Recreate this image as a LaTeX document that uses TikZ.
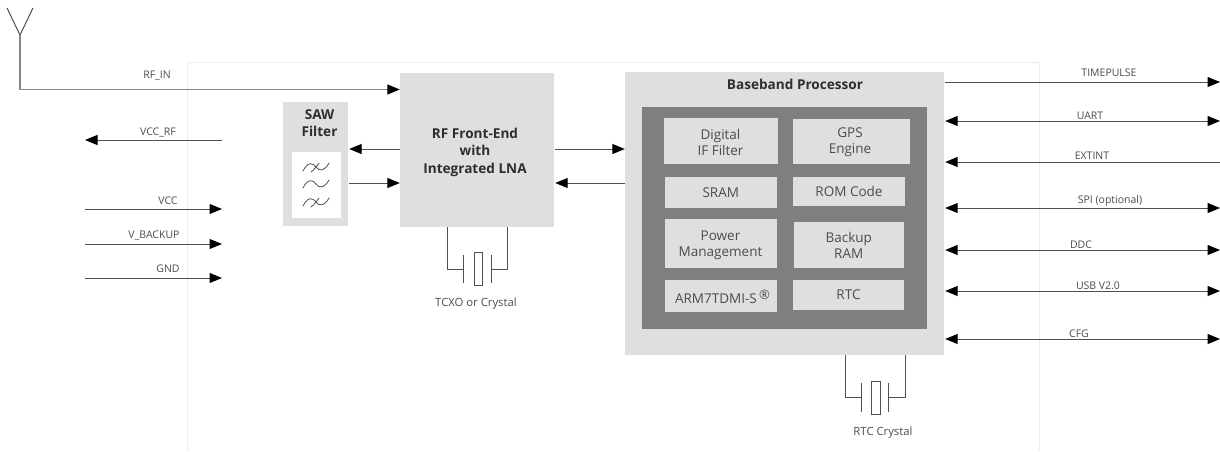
\documentclass[tikz,border=0pt]{standalone}
\usepackage{fontspec}
\setmainfont{Open Sans}
\usetikzlibrary{arrows.meta}
\definecolor{boxg}{HTML}{DFDFDF}
\definecolor{darkg}{HTML}{7F7F7F}
\definecolor{wire}{HTML}{505050}
\definecolor{wirelt}{HTML}{868686}
\definecolor{txt}{HTML}{4C4C4C}
\definecolor{txtb}{HTML}{2E2E2E}
\definecolor{frame}{HTML}{EEEEEE}
\tikzset{
 x=1pt,y=-1pt,
 block/.style={fill=boxg,draw=none,inner sep=0pt,align=center,text=txtb,font=\fontsize{13.6}{17.5}\selectfont\bfseries},
 inner/.style={fill=boxg,draw=none,inner sep=0pt,align=center,text=txt,font=\fontsize{13.5}{16}\selectfont},
 overtext/.style={fill=none,inner sep=0pt,align=center},
 lab/.style={inner sep=0pt,text=txt,font=\fontsize{10.5}{12}\selectfont},
 xtallab/.style={lab,font=\fontsize{11.3}{13}\selectfont},
 wirel/.style={draw=wire,line width=1pt},
 tip/.tip={Triangle[length=12.5pt,width=10pt,fill=black,color=black]},
 arr/.style={wirel,-tip},
 darr/.style={wirel,tip-tip},
 lead/.style={draw=wire,line width=1pt},
 wave/.style={draw=wire,line width=0.8pt,line cap=round},
}
\begin{document}
\begin{tikzpicture}
\useasboundingbox (0,0) rectangle (1220,451);
\draw[frame,line width=0.8pt] (187,451) -- (187,62) -- (1039,62) -- (1039,451);
% blocks
\node[block,minimum width=154pt,minimum height=154pt] (rf) at (477,150) {};
\node[block,overtext] (rft) at (475,152) {RF Front-End\\with\\Integrated LNA};
\node[block,minimum width=65pt,minimum height=124.5pt] (saw) at (315.5,163.75) {};
\node[block,overtext] (sawt) at (319.5,123) {SAW\\Filter};
\node[fill=white,inner sep=0pt,minimum width=49pt,minimum height=66pt] (sawin) at (316.5,185) {};
\node[block,minimum width=319pt,minimum height=283pt] (bb) at (784.5,213.5) {};
\node[block,overtext] (bbt) at (795,84) {Baseband Processor};
\node[fill=darkg,inner sep=0pt,minimum width=285pt,minimum height=222pt] (core) at (784.5,218) {};
\node[inner,minimum width=114.5pt,minimum height=46pt] (dif) at (720.75,141) {};
\node[inner,overtext] (dift) at (720.5,142) {Digital\\IF Filter};
\node[inner,minimum width=116.5pt,minimum height=45.5pt] (gps) at (851.25,141.25) {};
\node[inner,overtext] (gpst) at (850,142) {GPS\\Engine};
\node[inner,minimum width=112.5pt,minimum height=31.5pt] (sram) at (720.75,192.25) {SRAM};
\node[inner,minimum width=112pt,minimum height=29pt] (rom) at (849,191.5) {ROM Code};
\node[inner,minimum width=112.5pt,minimum height=49pt] (pwr) at (720.75,243.5) {};
\node[inner,overtext] (pwrt) at (720.5,245) {Power\\Management};
\node[inner,minimum width=110.5pt,minimum height=46pt] (bak) at (848.75,245) {};
\node[inner,overtext] (bakt) at (848.75,245.5) {Backup\\RAM};
\node[inner,minimum width=112pt,minimum height=32pt] (arm) at (721,296) {};
\node[inner,overtext] (armt) at (722.5,297) {ARM7TDMI-S\,\raisebox{0.5ex}{\fontsize{13}{13}\selectfont ®}};
\node[inner,minimum width=111pt,minimum height=30pt] (rtc) at (848.5,295) {RTC};
% filter symbols
\draw[wave] (303,171) .. controls (308,161) and (313,163) .. (316,167) .. controls (319,171) and (324,172) .. (329,163);
\draw[wave] (311,172) .. controls (314,170) and (316,167) .. (319,163);
\draw[wave] (303,188) .. controls (308,178) and (313,180) .. (316,184) .. controls (319,188) and (324,189) .. (329,180);
\draw[wave] (303,206) .. controls (308,196) and (313,198) .. (316,202) .. controls (319,206) and (324,207) .. (329,198);
\draw[wave] (311,207) .. controls (314,205) and (316,202) .. (319,198);
% antenna
\coordinate (antl) at (7,8);
\coordinate (antr) at (33,8);
\coordinate (antj) at (20,35);
\coordinate (antb) at (20,89.5);
\draw[lead,draw=wire] (antl) -- (antj) -- (antr);
\draw[wirel,draw=wirelt,line width=1.4pt] (antj) -- (antb);
\draw[wirel,draw=wirelt,line width=1.2pt,-tip] (antb) -- (antb -| rf.west);
\node[lab] (lrfin) at (157,76) {RF\_IN};
% left pins
\coordinate (lf) at (85,0);
\coordinate (rg) at (222,0);
\coordinate (y1) at (150,140);
\coordinate (y2) at (150,209);
\coordinate (y3) at (150,244);
\coordinate (y4) at (150,278);
\draw[arr] (y1 -| rg) -- (y1 -| lf);
\draw[arr] (y2 -| lf) -- (y2 -| rg);
\draw[arr] (y3 -| lf) -- (y3 -| rg);
\draw[arr] (y4 -| lf) -- (y4 -| rg);
\node[lab] (lvccrf) at (158,132) {VCC\_RF};
\node[lab] (lvcc) at (168,201) {VCC};
\node[lab] (lvb) at (154,235) {V\_BACKUP};
\node[lab] (lgnd) at (168,269) {GND};
% SAW - RF - BB
\coordinate (m1) at (375,149);
\coordinate (m2) at (375,183);
\draw[arr] (m1 -| rf.west) -- ([xshift=1pt]m1 -| saw.east);
\draw[arr] ([xshift=1pt]m2 -| saw.east) -- (m2 -| rf.west);
\draw[arr] ([xshift=1pt]m1 -| rf.east) -- (m1 -| bb.west);
\draw[arr] (m2 -| bb.west) -- ([xshift=1pt]m2 -| rf.east);
% crystal RF
\coordinate (c1a) at (447,227);
\coordinate (c1b) at (447,269);
\coordinate (c1c) at (463.5,269);
\coordinate (c1d) at (491,269);
\coordinate (c1e) at (507.5,269);
\coordinate (c1f) at (507.5,227);
\draw[lead] (c1a) -- (c1b) -- (c1c);
\draw[lead] (c1d) -- (c1e) -- (c1f);
\draw[lead] (463.5,255) -- (463.5,283);
\draw[lead] (491,255) -- (491,283);
\draw[lead,fill=white] (474,252) rectangle (482,285);
\node[xtallab] (ltcxo) at (476,304) {TCXO or Crystal};
% crystal RTC
\coordinate (c2a) at (845,355);
\coordinate (c2b) at (845,397);
\coordinate (c2c) at (861.5,397);
\coordinate (c2d) at (888.5,397);
\coordinate (c2e) at (905,397);
\coordinate (c2f) at (905,355);
\draw[lead] (c2a) -- (c2b) -- (c2c);
\draw[lead] (c2d) -- (c2e) -- (c2f);
\draw[lead] (861.5,383) -- (861.5,412);
\draw[lead] (888.5,383) -- (888.5,412);
\draw[lead,fill=white] (871.5,381) rectangle (880.5,414);
\node[xtallab] (lrtcc) at (883,433) {RTC Crystal};
% right pins
\coordinate (re) at (1220,0);
\coordinate (r1) at (1000,82);
\coordinate (r2) at (1000,121);
\coordinate (r3) at (1000,162);
\coordinate (r4) at (1000,208);
\coordinate (r5) at (1000,250);
\coordinate (r6) at (1000,291);
\coordinate (r7) at (1000,339);
\draw[arr] ([xshift=1pt]r1 -| bb.east) -- (r1 -| re);
\draw[darr] ([xshift=1pt]r2 -| bb.east) -- (r2 -| re);
\draw[arr] (r3 -| re) -- ([xshift=1pt]r3 -| bb.east);
\draw[darr] ([xshift=1pt]r4 -| bb.east) -- (r4 -| re);
\draw[darr] ([xshift=1pt]r5 -| bb.east) -- (r5 -| re);
\draw[darr] ([xshift=1pt]r6 -| bb.east) -- (r6 -| re);
\draw[darr] ([xshift=1pt]r7 -| bb.east) -- (r7 -| re);
\node[lab] (ltp) at (1109,73) {TIMEPULSE};
\node[lab] (luart) at (1090,116) {UART};
\node[lab] (lext) at (1092,156) {EXTINT};
\node[lab] (lspi) at (1110,201) {SPI (optional)};
\node[lab] (lddc) at (1081,245) {DDC};
\node[lab] (lusb) at (1098,286) {USB V2.0};
\node[lab] (lcfg) at (1079,334) {CFG};
\end{tikzpicture}
\end{document}
